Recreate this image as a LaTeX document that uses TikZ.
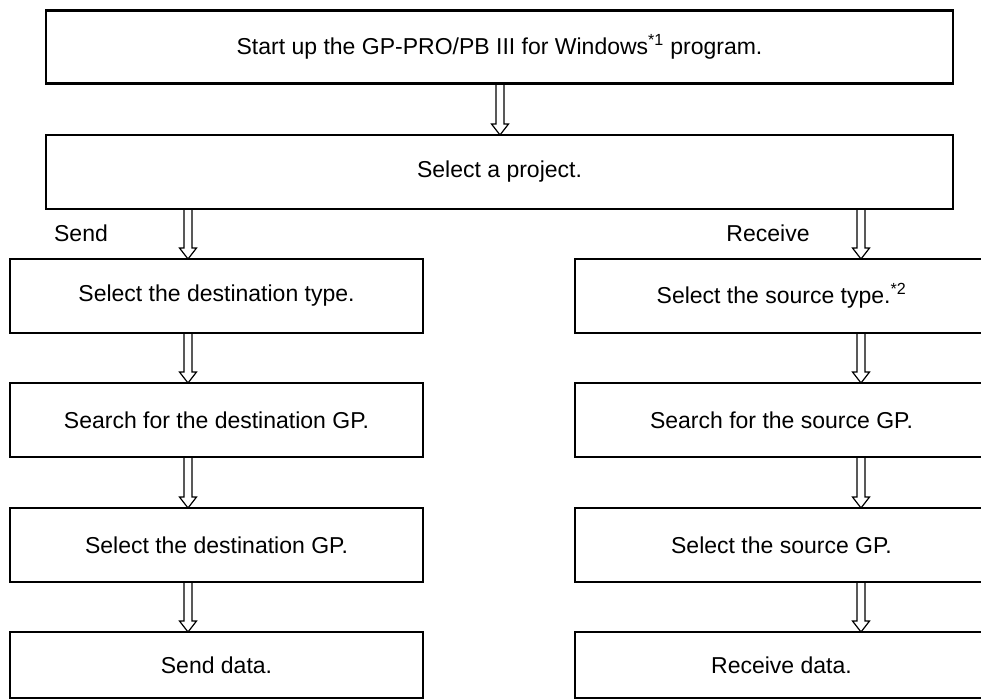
\documentclass[tikz,border=0pt]{standalone}
\usepackage{fontspec}
\setmainfont{Liberation Sans}
\usetikzlibrary{calc}
\tikzset{
  box/.style={draw, line width=2.3pt, inner sep=0pt, outer sep=0pt, align=center,
    font=\fontsize{23}{27}\selectfont},
  wide/.style={box, minimum width=907pt, minimum height=73pt},
  col/.style={box, minimum width=413pt, minimum height=74pt},
  lbl/.style={inner sep=0pt, font=\fontsize{23}{27}\selectfont},
  harrow/.style={draw, line width=1.2pt, line join=miter}
}
\newcommand\harr[3]{\draw[harrow] let \p1=(#2), \p2=(#3) in
  (#1pt-4pt,\y1) -- (#1pt-4pt,\y2+11pt) -- (#1pt-8.5pt,\y2+11pt) -- (#1pt,\y2)
  -- (#1pt+8.5pt,\y2+11pt) -- (#1pt+4pt,\y2+11pt) -- (#1pt+4pt,\y1);}
\begin{document}
\begin{tikzpicture}[x=1pt,y=-1pt]
\fill[white] (0,0) rectangle (981,700);
\clip (0,0) rectangle (981,700);
\node[wide] (start) at (499.5,47) {Start up the GP-PRO/PB III for Windows\textsuperscript{*1} program.};
\node[wide, minimum height=74pt] (proj) at (499.5,172) {Select a project.};
\node[lbl] (send) at (81,233) {Send};
\node[lbl] (recv) at (768,233) {Receive};
\node[col] (d1) at (216.5,296) {Select the destination type.};
\node[col] (d2) at (216.5,420) {Search for the destination GP.};
\node[col] (d3) at (216.5,545) {Select the destination GP.};
\node[col, minimum height=66pt] (d4) at (216.5,665) {Send data.};
\node[col] (s1) at (781.5,296) {Select the source type.\textsuperscript{*2}};
\node[col] (s2) at (781.5,420) {Search for the source GP.};
\node[col] (s3) at (781.5,545) {Select the source GP.};
\node[col, minimum height=66pt] (s4) at (781.5,665) {Receive data.};
\harr{500}{start.south}{proj.north}
\harr{188}{proj.south}{d1.north}
\harr{861}{proj.south}{s1.north}
\harr{188}{d1.south}{d2.north}
\harr{188}{d2.south}{d3.north}
\harr{188}{d3.south}{d4.north}
\harr{861}{s1.south}{s2.north}
\harr{861}{s2.south}{s3.north}
\harr{861}{s3.south}{s4.north}
\end{tikzpicture}
\end{document}
